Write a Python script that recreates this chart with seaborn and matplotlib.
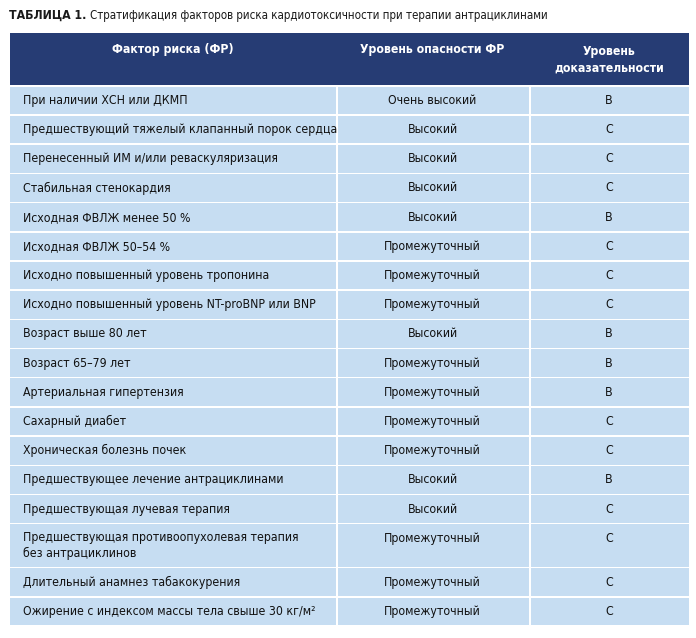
import matplotlib
matplotlib.use('Agg')
import matplotlib.pyplot as plt
from matplotlib.patches import Rectangle
import seaborn as sns

# table content
title_bold = 'ТАБЛИЦА 1.'
title_rest = 'Стратификация факторов риска кардиотоксичности при терапии антрациклинами'
headers = ['Фактор риска (ФР)', 'Уровень опасности ФР', 'Уровень\nдоказательности']

factors = [
    'При наличии ХСН или ДКМП',
    'Предшествующий тяжелый клапанный порок сердца',
    'Перенесенный ИМ и/или реваскуляризация',
    'Стабильная стенокардия',
    'Исходная ФВЛЖ менее 50 %',
    'Исходная ФВЛЖ 50–54 %',
    'Исходно повышенный уровень тропонина',
    'Исходно повышенный уровень NT-proBNP или BNP',
    'Возраст выше 80 лет',
    'Возраст 65–79 лет',
    'Артериальная гипертензия',
    'Сахарный диабет',
    'Хроническая болезнь почек',
    'Предшествующее лечение антрациклинами',
    'Предшествующая лучевая терапия',
    'Предшествующая противоопухолевая терапия\nбез антрациклинов',
    'Длительный анамнез табакокурения',
    'Ожирение с индексом массы тела свыше 30 кг/м²',
]
risk_levels = [
    'Очень высокий', 'Высокий', 'Высокий', 'Высокий', 'Высокий',
    'Промежуточный', 'Промежуточный', 'Промежуточный', 'Высокий',
    'Промежуточный', 'Промежуточный', 'Промежуточный', 'Промежуточный',
    'Высокий', 'Высокий', 'Промежуточный', 'Промежуточный', 'Промежуточный',
]
evidence = ['B', 'C', 'C', 'C', 'B', 'C', 'C', 'C', 'B', 'B', 'B', 'C', 'C',
            'B', 'C', 'C', 'C', 'C']

sns.set_theme(style='white')
plt.rcParams['font.family'] = ['DejaVu Sans']
plt.rcParams['font.stretch'] = 'condensed'

navy = '#263c74'
light = '#c6ddf2'
fs = 8.8

fig = plt.figure(figsize=(6.96, 6.38), dpi=100)
ax = fig.add_axes([0, 0, 1, 1])
ax.set_xlim(0, 696)
ax.set_ylim(638, 0)
ax.axis('off')

# title: bold label, then plain text right after it
t = ax.text(9, 15, title_bold + ' ', fontsize=8.8, fontweight='bold',
            va='center', ha='left', color='#1a1a1a')
fig.canvas.draw()
bb = t.get_window_extent().transformed(ax.transData.inverted())
ax.text(bb.x1, 15, title_rest, fontsize=8.3, va='center', ha='left',
        color='#1a1a1a')

col_x = [10, 336, 529, 689]
gap = 1.5

# header
y0, y1 = 33, 85
ax.add_patch(Rectangle((col_x[0], y0), col_x[-1] - col_x[0], y1 - y0,
                       color=navy, lw=0))
ax.text((col_x[0] + col_x[1]) / 2, 50, headers[0], color='white',
        fontweight='bold', fontsize=fs, ha='center', va='center')
ax.text((col_x[1] + col_x[2]) / 2, 50, headers[1], color='white',
        fontweight='bold', fontsize=fs, ha='center', va='center')
ax.text((col_x[2] + col_x[3]) / 2, 60, headers[2], color='white',
        fontweight='bold', fontsize=fs, ha='center', va='center',
        linespacing=1.35)

# body rows
y = 85
for f, r, e in zip(factors, risk_levels, evidence):
    h = 44 if '\n' in f else 29.2
    for i in range(3):
        ax.add_patch(Rectangle((col_x[i] + (gap if i else 0), y + gap),
                               col_x[i + 1] - col_x[i] - (gap if i else 0),
                               h - gap, color=light, lw=0))
    yt = y + gap + 14 if '\n' in f else y + gap + (h - gap) / 2
    ax.text(col_x[0] + 13, y + gap + (h - gap) / 2, f, fontsize=fs,
            ha='left', va='center', color='#111111', linespacing=1.3)
    ax.text((col_x[1] + col_x[2]) / 2, yt, r, fontsize=fs, ha='center',
            va='center', color='#111111')
    ax.text((col_x[2] + col_x[3]) / 2, yt, e, fontsize=fs, ha='center',
            va='center', color='#111111')
    y += h

fig.savefig('out.png', dpi=100, facecolor='white')
